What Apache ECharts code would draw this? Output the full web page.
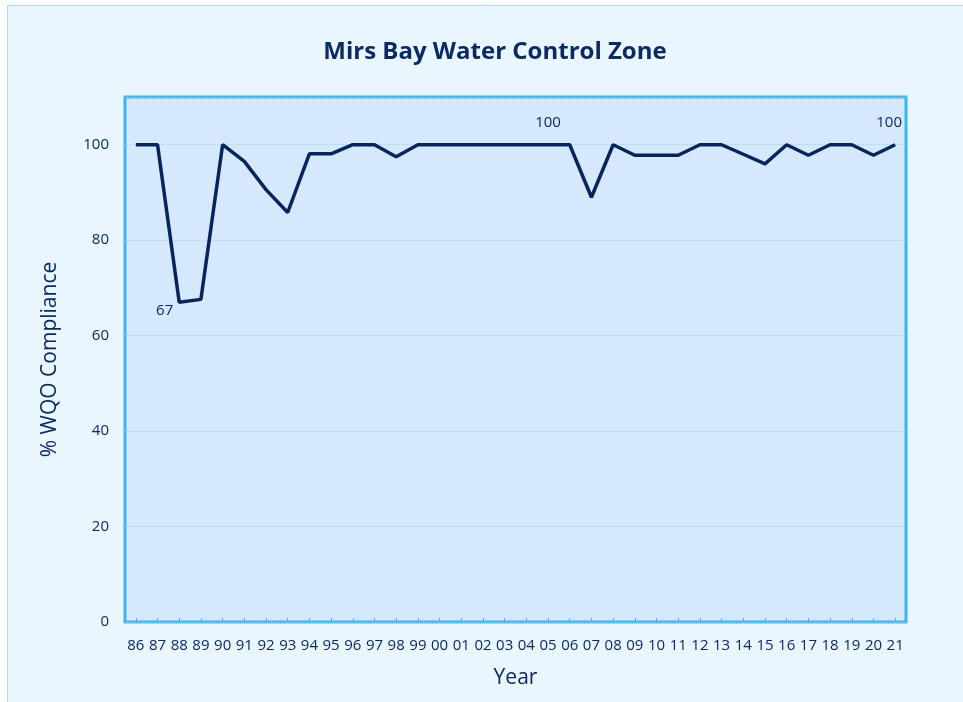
<!DOCTYPE html>
<html>
<head>
<meta charset="utf-8">
<title>Mirs Bay Water Control Zone</title>
<script src="https://cdn.jsdelivr.net/npm/echarts@6/dist/echarts.min.js"></script>
<style>
  html, body { margin: 0; padding: 0; background: #ffffff; }
  #chart { width: 963px; height: 702px; }
</style>
</head>
<body>
<div id="chart"></div>
<script>
// years 1986 - 2021
const years = ['86', '87', '88', '89', '90', '91', '92', '93', '94', '95', '96', '97',
  '98', '99', '00', '01', '02', '03', '04', '05', '06', '07', '08', '09', '10', '11',
  '12', '13', '14', '15', '16', '17', '18', '19', '20', '21']

// % WQO compliance
const compliance = [100, 100, 67, 67.6, 100, 96.5, 90.6, 85.8, 98.1, 98.1, 100, 100,
  97.5, 100, 100, 100, 100, 100, 100, 100, 100, 89, 100, 97.8, 97.8, 97.8,
  100, 100, 98, 96, 100, 97.8, 100, 100, 97.8, 100]

// points that carry a value label
const labelled = ['88', '05', '21']

const yTicks = [0, 20, 40, 60, 80, 100]

const navy = '#0b2a63'
const font = 'Open Sans'

const chart = echarts.init(document.getElementById('chart'))

const seriesData = compliance.map((v, i) => {
  const year = years[i]
  if (labelled.indexOf(year) < 0) return v
  // the low point has its label tucked under-left
  const low = year === '88'
  return {
    value: v,
    label: {
      show: true,
      position: low ? 'left' : 'top',
      distance: low ? 6 : 14,
      offset: low ? [0, 9] : (year === '21' ? [-6, 0] : [0, 0]),
      formatter: String(Math.round(v)),
      color: navy,
      fontFamily: font,
      fontSize: 15
    }
  }
})

chart.setOption({
  backgroundColor: '#ffffff',
  graphic: [{
    type: 'rect',
    z: -10,
    shape: { x: 7.5, y: 5.5, width: 1000, height: 1000 },
    style: { fill: '#eaf6fe', stroke: '#a9d8f8', lineWidth: 1 }
  }],
  title: {
    text: 'Mirs Bay Water Control Zone',
    left: 490,
    textAlign: 'center',
    top: 35,
    textStyle: {
      color: navy,
      fontFamily: font,
      fontWeight: 'bold',
      fontSize: 24
    }
  },
  grid: {
    left: 125,
    right: 57,
    top: 97,
    bottom: 80,
    show: true,
    backgroundColor: '#d6e8fb',
    borderColor: '#3bb4f2',
    borderWidth: 3
  },
  xAxis: {
    type: 'category',
    data: years,
    boundaryGap: true,
    name: 'Year',
    nameLocation: 'middle',
    nameGap: 46,
    nameTextStyle: { color: navy, fontFamily: font, fontSize: 21 },
    axisLine: { show: false },
    axisTick: {
      show: true,
      inside: true,
      alignWithLabel: true,
      length: 4,
      lineStyle: { color: '#8f9aa6', width: 1 }
    },
    axisLabel: {
      interval: 0,
      margin: 16,
      color: navy,
      fontFamily: font,
      fontSize: 15
    },
    splitLine: { show: false }
  },
  yAxis: {
    type: 'value',
    min: 0,
    max: 110,
    interval: 20,
    name: '% WQO Compliance',
    nameLocation: 'middle',
    nameGap: 64,
    nameTextStyle: { color: navy, fontFamily: font, fontSize: 21 },
    axisLine: { show: false },
    axisTick: { show: false },
    axisLabel: {
      margin: 16,
      color: navy,
      fontFamily: font,
      fontSize: 15,
      showMaxLabel: false,
      formatter: v => (yTicks.indexOf(v) >= 0 ? v : '')
    },
    splitLine: {
      show: true,
      lineStyle: { color: '#9fd6f8', type: 'dotted', width: 1 }
    }
  },
  series: [{
    type: 'line',
    data: seriesData,
    symbol: 'circle',
    symbolSize: 0,
    showSymbol: true,
    smooth: false,
    lineStyle: { color: '#06255c', width: 3.5 },
    itemStyle: { color: '#06255c' },
    z: 5
  }],
  animation: false
})
</script>
</body>
</html>
